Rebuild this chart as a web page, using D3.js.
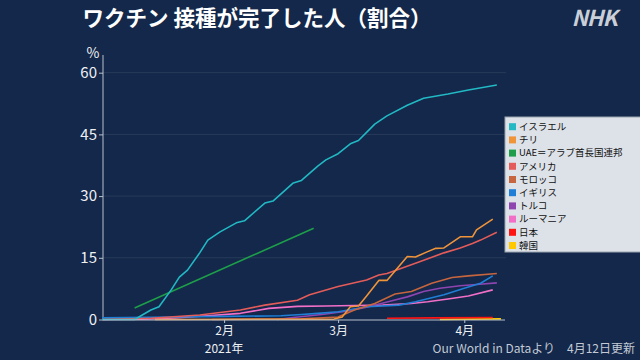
<!DOCTYPE html>
<html><head><meta charset="utf-8">
<script src="https://cdn.jsdelivr.net/npm/d3@7"></script>
<style>
html,body{margin:0;padding:0;background:#13284a;}
svg{display:block;}
text{font-family:"Noto Sans CJK JP","Noto Sans",sans-serif;}
</style></head>
<body><svg id="c" width="640" height="360"></svg>
<script>
const title = "ワクチン 接種が完了した人（割合）";
const legendNames = ["イスラエル","チリ","UAE＝アラブ首長国連邦","アメリカ","モロッコ","イギリス","トルコ","ルーマニア","日本","韓国"];
const colors = ["#22b8c4","#f0943a","#1e9e4a","#e45c5a","#c6653e","#1f7fd6","#8e45b0","#f26fc8","#ff1414","#ffc800"];
const yTicks = [0,15,30,45,60];
const xTicks = ["2021-02-01","2021-03-01","2021-04-01"];
const xTickLabels = ["2月","3月","4月"];

const israel = [["2021-01-02",0],["2021-01-10",0],["2021-01-14",2.3],["2021-01-16",3.1],["2021-01-19",7.2],["2021-01-21",10.3],["2021-01-23",12.0],["2021-01-26",16.2],["2021-01-28",19.3],["2021-01-31",21.3],["2021-02-04",23.5],["2021-02-06",24.0],["2021-02-11",28.3],["2021-02-13",28.8],["2021-02-18",33.2],["2021-02-20",33.8],["2021-02-24",37.3],["2021-02-26",38.8],["2021-03-01",40.3],["2021-03-04",42.7],["2021-03-06",43.5],["2021-03-10",47.5],["2021-03-13",49.5],["2021-03-18",52.1],["2021-03-22",53.8],["2021-03-28",54.8],["2021-04-02",55.8],["2021-04-09",57.0]];
const chile = [["2021-01-15",0],["2021-02-10",0.05],["2021-02-28",0.1],["2021-03-02",0.6],["2021-03-04",3.1],["2021-03-06",3.3],["2021-03-08",5.7],["2021-03-11",9.5],["2021-03-13",9.5],["2021-03-18",15.3],["2021-03-20",15.2],["2021-03-23",16.5],["2021-03-25",17.3],["2021-03-27",17.4],["2021-03-31",20.1],["2021-04-03",20.1],["2021-04-04",21.8],["2021-04-08",24.4]];
const uae = [["2021-01-10",2.8],["2021-02-23",22.2]];
const usa = [["2021-01-02",0],["2021-01-14",0.3],["2021-01-26",1.1],["2021-02-05",2.3],["2021-02-11",3.5],["2021-02-19",4.7],["2021-02-22",6.0],["2021-03-01",8.0],["2021-03-08",9.6],["2021-03-11",10.8],["2021-03-13",11.2],["2021-03-20",13.7],["2021-03-27",16.2],["2021-03-31",17.4],["2021-04-03",18.5],["2021-04-05",19.3],["2021-04-09",21.2]];
const morocco = [["2021-01-29",0],["2021-02-20",0.2],["2021-03-01",0.6],["2021-03-05",2.3],["2021-03-10",3.9],["2021-03-15",6.2],["2021-03-19",6.8],["2021-03-24",8.8],["2021-03-29",10.2],["2021-04-02",10.6],["2021-04-09",11.2]];
const uk = [["2021-01-02",0.4],["2021-01-20",0.6],["2021-02-01",0.75],["2021-02-15",0.9],["2021-02-20",1.2],["2021-02-24",1.5],["2021-03-01",1.9],["2021-03-08",3.1],["2021-03-16",3.5],["2021-03-20",4.3],["2021-03-27",6.0],["2021-04-01",7.6],["2021-04-05",8.8],["2021-04-08",10.6]];
const turkey = [["2021-02-14",0],["2021-02-18",0.5],["2021-02-25",1.2],["2021-03-03",2.0],["2021-03-08",3.0],["2021-03-14",4.5],["2021-03-18",5.5],["2021-03-22",6.8],["2021-03-26",7.6],["2021-03-31",8.2],["2021-04-04",8.5],["2021-04-09",8.9]];
const romania = [["2021-01-02",0],["2021-01-12",0.1],["2021-01-20",0.4],["2021-01-28",0.9],["2021-02-05",1.5],["2021-02-12",2.7],["2021-02-19",3.2],["2021-02-26",3.3],["2021-03-05",3.4],["2021-03-12",3.5],["2021-03-19",3.9],["2021-03-23",4.3],["2021-03-28",5.0],["2021-04-02",5.7],["2021-04-08",7.2]];
const japan = [["2021-03-13",0.3],["2021-03-25",0.4],["2021-04-08",0.5]];
const korea = [["2021-03-26",0.02],["2021-04-10",0.15]];

const series = [israel,chile,uae,usa,morocco,uk,turkey,romania,japan,korea];
const parse = d3.timeParse("%Y-%m-%d");

const svg = d3.select("#c");
svg.append("rect").attr("width",640).attr("height",360).attr("fill","#13284a");

const x = d3.scaleTime().domain([parse("2021-01-02"),parse("2021-04-11")]).range([102,505]);
const y = d3.scaleLinear().domain([0,64.3]).range([319.5,55]);

// gridlines
svg.append("g").selectAll("line").data(yTicks.filter(d=>d>0)).join("line")
  .attr("x1",103).attr("x2",506).attr("y1",d=>y(d)).attr("y2",d=>y(d))
  .attr("stroke","#ffffff").attr("stroke-opacity",0.09).attr("stroke-width",1);

// y axis
const yAxis = d3.axisLeft(y).tickValues(yTicks).tickSize(4).tickPadding(2).tickFormat(d3.format("d"));
const gy = svg.append("g").attr("transform","translate(103,0)").call(yAxis);
gy.select(".domain").attr("stroke","#b8c0cc").attr("d","M0,55V320");
gy.selectAll(".tick line").attr("stroke","#b8c0cc");
gy.selectAll(".tick text").attr("fill","#eef0f4").attr("font-size",15)
  .attr("font-family","Liberation Sans, Arial, sans-serif");
svg.append("text").attr("x",93).attr("y",58).attr("text-anchor","middle")
  .attr("fill","#eef0f4").attr("font-size",14).attr("font-family","Liberation Sans, Arial, sans-serif").text("%");

// lines
const line = d3.line().x(d=>x(parse(d[0]))).y(d=>y(d[1]));
const order = d3.range(series.length).reverse();
svg.append("g").selectAll("path").data(order).join("path")
  .attr("d",i=>line(series[i]))
  .attr("fill","none").attr("stroke",i=>colors[i]).attr("stroke-width",1.6)
  .attr("stroke-linejoin","round");

// x axis
const xAxis = d3.axisBottom(x).tickValues(xTicks.map(parse)).tickSize(3).tickFormat((d,i)=>xTickLabels[i]);
const gx = svg.append("g").attr("transform","translate(0,320)").call(xAxis);
gx.select(".domain").attr("stroke","#b8c0cc").attr("d","M103,0H505");
gx.selectAll(".tick line").attr("stroke","#b8c0cc");
gx.selectAll(".tick text").attr("fill","#eef0f4").attr("font-size",12).attr("dy","0.78em");
svg.append("text").attr("x",x(parse(xTicks[0]))).attr("y",353).attr("text-anchor","middle")
  .attr("fill","#eef0f4").attr("font-size",12).text("2021年");

// source
svg.append("text").attr("x",635).attr("y",353).attr("text-anchor","end")
  .attr("fill","#c3cad6").attr("font-size",12).text("Our World in Dataより　4月12日更新");

// legend
const lg = svg.append("g");
lg.append("rect").attr("x",505).attr("y",117).attr("width",140).attr("height",135)
  .attr("fill","#dde1e8").attr("stroke","#9aa3b0").attr("stroke-width",1);
const items = lg.selectAll("g").data(legendNames).join("g")
  .attr("transform",(d,i)=>`translate(509,${126.7+i*13.2})`);
items.append("rect").attr("x",0).attr("y",-3.5).attr("width",7).attr("height",7).attr("fill",(d,i)=>colors[i]);
items.append("text").attr("x",10).attr("y",0).attr("dy","0.35em").attr("font-size",9.5)
  .attr("fill","#111").text(d=>d);

// title
svg.append("text").attr("x",257).attr("y",26).attr("text-anchor","middle")
  .attr("fill","#ffffff").attr("font-size",21.5).attr("font-weight","bold").text(title);
svg.append("text").attr("x",594).attr("y",26).attr("text-anchor","middle")
  .attr("fill","#c9ced8").attr("font-size",22).attr("font-weight","bold").attr("font-style","italic")
  .attr("font-family","Liberation Sans, Arial, sans-serif").attr("letter-spacing","-1").text("NHK");
</script></body></html>
